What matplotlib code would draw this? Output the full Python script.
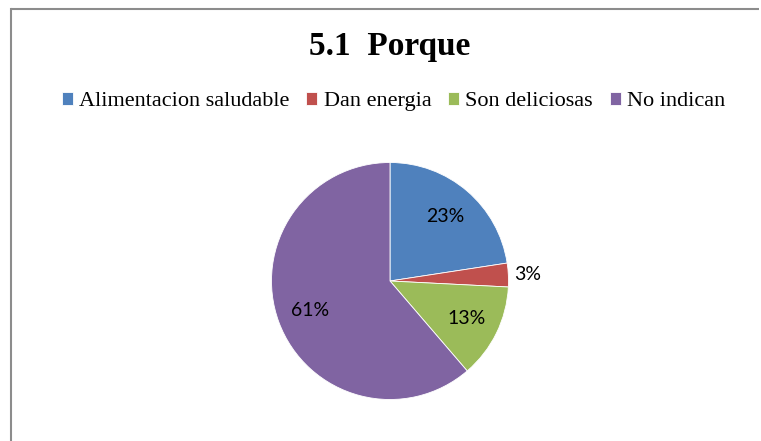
import numpy as np
import matplotlib.pyplot as plt
from matplotlib.lines import Line2D

categories = ["Alimentacion saludable", "Dan energia", "Son deliciosas", "No indican"]
counts = [7, 1, 4, 19]
colors = ["#4F81BD", "#C0504D", "#9BBB59", "#8064A2"]
title = "5.1  Porque"

W, H = 761, 441
fig = plt.figure(figsize=(W / 100, H / 100), dpi=100)

# frame of the chart area (only left/top edges visible in the crop)
bx, by = 11 / W, 1 - 8.5 / H
fig.add_artist(Line2D([bx, bx], [0, by], color="#8c8c8c", lw=1.5))
fig.add_artist(Line2D([bx, 1 - 2 / W], [by, by], color="#8c8c8c", lw=1.5,
                      solid_capstyle="butt"))

cx, cy, r = 390, 281, 118.5
ax = fig.add_axes([(cx - r) / W, (H - cy - r) / H, 2 * r / W, 2 * r / H])
wedges, texts, autotexts = ax.pie(
    counts, colors=colors, startangle=90, counterclock=False,
    autopct="%.0f%%", pctdistance=0.72,
    wedgeprops=dict(edgecolor="white", linewidth=0.6),
    textprops=dict(family="Lato", fontsize=14, color="black"))
ax.set_xlim(-1, 1)
ax.set_ylim(-1, 1)

# small slice gets its label outside the pie
for w, t, v in zip(wedges, autotexts, counts):
    if v / sum(counts) < 0.05:
        ang = np.deg2rad((w.theta1 + w.theta2) / 2)
        t.set_position((1.16 * np.cos(ang), 1.16 * np.sin(ang)))

fig.text(390 / W, 1 - 55 / H, title, ha="center", va="baseline",
         family="Liberation Serif", fontweight="bold", fontsize=24)

leg = fig.legend(wedges, categories, loc="center", ncol=4,
                 bbox_to_anchor=(393.5 / W, 1 - 101.5 / H), frameon=False,
                 prop={"family": "Liberation Serif", "size": 16},
                 handlelength=0.5, handleheight=0.5, handletextpad=0.28,
                 columnspacing=0.75, borderpad=0, borderaxespad=0)

fig.savefig("out.png", dpi=100)
